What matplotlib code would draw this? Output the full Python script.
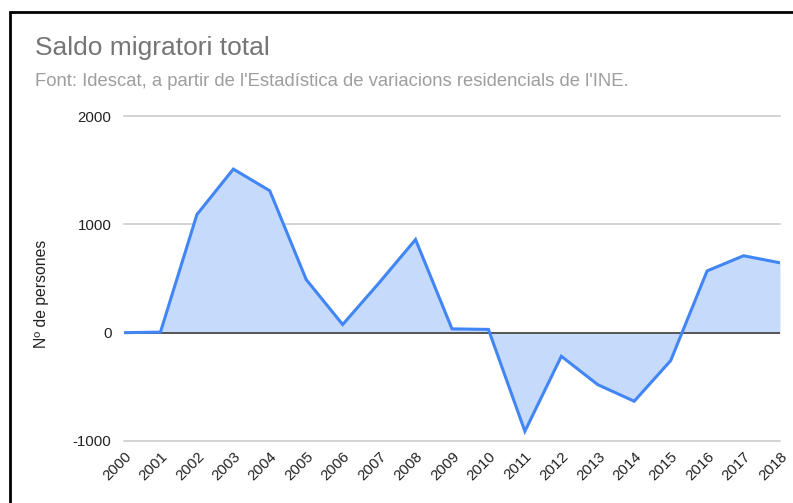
import matplotlib.pyplot as plt
from matplotlib.patches import Rectangle

years = list(range(2000, 2019))
saldo = [0, 5, 1090, 1510, 1310, 490, 75, 460, 860, 35, 30,
         -910, -218, -480, -633, -258, 570, 710, 645]
yticks = [-1000, 0, 1000, 2000]

plt.rcParams['font.family'] = ['Liberation Sans', 'DejaVu Sans']
plt.rcParams['axes.unicode_minus'] = False

fig = plt.figure(figsize=(7.93, 5.03), dpi=100)
ax = fig.add_axes([124 / 793, 1 - 441 / 503, 656 / 793, 325 / 503])

for t in yticks:
    if t != 0:
        ax.axhline(t, color='#cccccc', lw=1.2, clip_on=False, zorder=0)
ax.fill_between(years, saldo, 0, color='#c6dafc', lw=0)
ax.axhline(0, color='#555555', lw=1.4, zorder=3)
ax.plot(years, saldo, color='#4285f4', lw=2.2, solid_joinstyle='miter',
        zorder=4)

ax.set_xlim(2000, 2018)
ax.set_ylim(-1000, 2000)
ax.set_yticks(yticks)
ax.set_xticks(years)
ax.set_xticklabels([str(y) for y in years], rotation=45, ha='right',
                   rotation_mode='anchor', fontsize=10.8, color='#222222')
ax.tick_params(axis='y', labelsize=10.8, labelcolor='#222222', length=0, pad=9)
ax.tick_params(axis='x', length=0, pad=6)
for s in ax.spines.values():
    s.set_visible(False)

ax.set_ylabel('Nº de persones', fontsize=11.3, color='#222222')
ax.yaxis.set_label_coords((49 - 124) / 656, (441 - 294) / 325)

fig.text(35 / 793, 1 - 48 / 503, 'Saldo migratori total', fontsize=19,
         color='#757575', va='center')
fig.text(35 / 793, 1 - 81 / 503,
         "Font: Idescat, a partir de l'Estadística de variacions residencials de l'INE.",
         fontsize=13.3, color='#9e9e9e', va='center')

# screenshot frame
fig.patches.append(Rectangle((10 / 793, -0.2), 1.5, 1 - 12 / 503 + 0.2,
                             transform=fig.transFigure, fill=False,
                             ec='black', lw=2, figure=fig))

fig.savefig('out.png', dpi=100)
